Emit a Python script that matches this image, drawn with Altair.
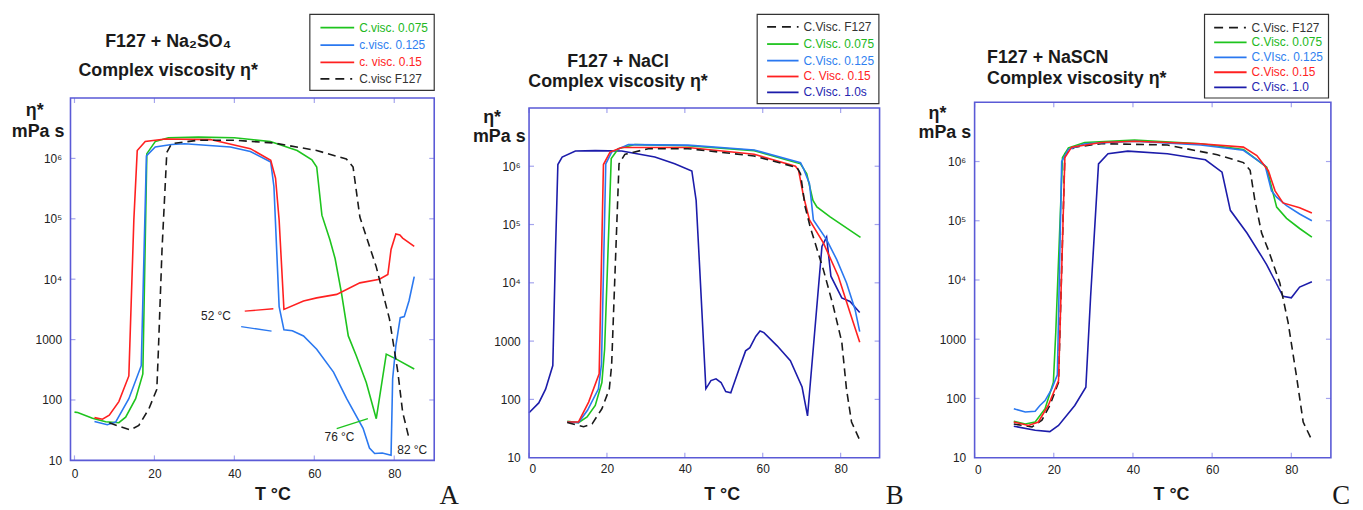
import json
import altair as alt
import pandas as pd

FONT = "Liberation Sans, Arial, Helvetica, sans-serif"
SERIF = "Liberation Serif, Times New Roman, serif"
GREEN = "#1ec41e"
BLUE = "#2a78f0"
RED = "#ff2020"
NAVY = "#1c1caa"
BLACK = "#1a1a1a"
FRAME = "#5a5ad6"
TICK = "#a4a4ee"
GT, BT, RT, NT, KT = "#22b822", "#2f7ff0", "#ff2424", "#2424b0", "#333333"

x_ticks = [0, 20, 40, 60, 80]
y_tick_values = [10, 100, 1000, 10000, 100000, 1000000]
y_tick_labels = ["10", "100", "1000", "10⁴", "10⁵", "10⁶"]
inner_y_ticks = [100, 1000, 10000, 100000, 1000000]

# ---------------- Panel A : F127 + Na2SO4 ----------------
A_T_green = [0, 0.8, 4.5, 7.8, 11.1, 12.8, 15.3, 17.1, 18.1, 20.2, 23.5, 31, 40, 49, 55.7, 59.4, 60.6, 61.9, 63.9, 65.2, 66.8, 68.5, 70.5, 73, 75.5, 78, 80.4, 85]
A_eta_green = [63, 62, 50, 43.5, 42, 52, 105, 270, 1.2e6, 1.9e6, 2.2e6, 2.25e6, 2.2e6, 1.9e6, 1.35e6, 9.5e5, 7.2e5, 1.15e5, 4.5e4, 2.2e4, 5900, 1150, 540, 195, 49, 575, 480, 325]
A_T_blue = [5, 8.2, 10.3, 13.6, 16.7, 18, 20.2, 24.3, 27.6, 39, 44, 49.1, 49.9, 51.2, 52.4, 54.5, 57.3, 60.6, 64.8, 68.1, 72.2, 73.8, 75.1, 77, 79.2, 79.6, 80.4, 81.5, 82.5, 83.7, 85]
A_eta_blue = [44, 39, 43, 105, 370, 1.1e6, 1.55e6, 1.7e6, 1.75e6, 1.55e6, 1.3e6, 8.7e5, 3.4e5, 3500, 1450, 1400, 1150, 690, 290, 105, 34, 16, 13, 13.2, 12.2, 225, 790, 2300, 2400, 4400, 1.1e4]
A_T_red = [5, 7, 8.7, 11.1, 13.6, 14.85, 15.7, 17.7, 22.7, 34, 44, 49.1, 50.3, 51.2, 52.4, 57.3, 60.6, 65.6, 71.4, 76.3, 78.4, 79.2, 80.4, 81.4, 82.1, 85]
A_eta_red = [51, 48, 56, 94, 250, 9.5e4, 1.35e6, 1.9e6, 2.1e6, 2.05e6, 1.45e6, 9.3e5, 4.7e5, 9.5e4, 3160, 4360, 4900, 5600, 8700, 1.0e4, 1.2e4, 3.1e4, 5.6e4, 5.4e4, 4.8e4, 3.5e4]
A_T_f127 = [8.7, 11, 14, 16.1, 18.6, 20.6, 21, 21.9, 23.1, 24.3, 30.9, 40, 49.9, 60.6, 68, 69.7, 71.4, 73, 75.5, 78.8, 80.9, 82.1, 83.6]
A_eta_f127 = [42, 37, 32, 38, 71, 150, 690, 3.1e4, 1.26e6, 1.75e6, 2.0e6, 2.0e6, 1.8e6, 1.35e6, 9.8e5, 7.2e5, 1.07e5, 5.1e4, 1.6e4, 2200, 290, 63, 24.6]
A_legend = ["C.visc. 0.075", "c.visc. 0.125", "c. visc. 0.15", "C.visc F127"]
A_ann_labels = ["52 °C", "76 °C", "82 °C"]
A_ann_T = [35.4, 66.3, 84.5]
A_ann_eta = [2430, 24.8, 14.6]
A_lead_T = [42.6, 41.7, 65.6]
A_lead_T2 = [49.75, 49.3, 73.4]
A_lead_eta = [2950, 1640, 33.6]
A_lead_eta2 = [3240, 1380, 49]

# ---------------- Panel B : F127 + NaCl ----------------
B_T_f127 = [9.8, 14, 16.2, 18.7, 20.6, 21.2, 23.1, 24.6, 30.6, 40.8, 57.8, 68.8, 69.7, 70.9, 72.2, 75.6, 78.1, 80.3, 81.5, 82.8, 84.9]
B_eta_f127 = [40, 34, 38, 69, 150, 380, 1.1e6, 1.6e6, 2.0e6, 2.0e6, 1.5e6, 9.5e5, 7.4e5, 2.0e5, 9.0e4, 1.65e4, 4000, 960, 150, 41, 20]
B_T_green = [9.8, 12.7, 14.9, 17, 18.7, 19.4, 21.1, 22.9, 27.2, 40.8, 57.8, 69.7, 71.3, 72.9, 73.9, 77.3, 85.1]
B_eta_green = [42, 40, 50, 79, 195, 725, 1.35e6, 2.0e6, 2.35e6, 2.25e6, 1.85e6, 1.1e6, 7.4e5, 2.6e5, 2.0e5, 1.35e5, 6.0e4]
B_T_blue = [9.8, 12.7, 15, 17.8, 18.6, 19.7, 21.2, 25.5, 40.8, 57.8, 69.7, 70.5, 72, 73, 76.4, 79, 81.5, 83.7, 84.9]
B_eta_blue = [41, 40, 65, 150, 400, 1.1e6, 1.75e6, 2.35e6, 2.3e6, 1.9e6, 1.15e6, 9.0e5, 5.0e5, 1.2e5, 5.5e4, 2.5e4, 1.0e4, 3500, 1450]
B_T_red = [9.8, 12.7, 15.3, 18, 19.1, 20.8, 23.8, 40.8, 57.8, 68.4, 69.2, 70.5, 72, 75.6, 79.4, 82.4, 84.9]
B_eta_red = [41, 41, 90, 275, 1.07e6, 1.75e6, 2.1e6, 2.1e6, 1.6e6, 1.0e6, 8.5e5, 3.0e5, 1.2e5, 4.8e4, 1.3e4, 3100, 960]
B_T_navy = [0, 2.5, 4.25, 6.1, 6.8, 7.4, 8.5, 11.9, 17, 23.8, 32.3, 37.4, 41.8, 42.9, 43.7, 45.4, 46.7, 48, 49.3, 50.5, 51.8, 53.9, 55.6, 56.7, 58.2, 59.3, 60.3, 63.7, 67.1, 70.1, 71.5, 75.2, 76.4, 77.5, 80.3, 82.4, 84.9]
B_eta_navy = [59, 87, 150, 380, 3.7e4, 1.07e6, 1.44e6, 1.83e6, 1.85e6, 1.83e6, 1.44e6, 1.1e6, 8.3e5, 2.6e5, 2.5e4, 152, 210, 225, 195, 136, 130, 330, 680, 770, 1200, 1490, 1400, 830, 460, 163, 52, 4.2e4, 6.1e4, 1.3e4, 5500, 4800, 3100]
B_legend = ["C.Visc. F127", "C.Visc. 0.075", "C.Visc. 0.125", "C. Visc. 0.15", "C.Visc. 1.0s"]

# ---------------- Panel C : F127 + NaSCN ----------------
C_T_f127 = [9.9, 14.5, 17, 19, 21.2, 22.8, 25.3, 32, 48.7, 61.3, 67.9, 69.6, 70.8, 72.5, 74.2, 77.1, 79.2, 81.3, 83, 85.2]
C_eta_f127 = [37, 33, 43, 76, 187, 1.35e6, 1.75e6, 2.0e6, 1.9e6, 1.3e6, 9.6e5, 7.1e5, 2.2e5, 6.2e4, 3.2e4, 8900, 1900, 240, 40, 19.6]
C_T_green = [9.9, 12.8, 15.3, 17.8, 19.9, 20.5, 22.2, 23.7, 27.8, 40.4, 57.1, 67.9, 73.8, 75, 76.3, 78.8, 82.1, 85.2]
C_eta_green = [41, 37, 40, 67, 187, 1300, 1.17e6, 1.7e6, 2.1e6, 2.3e6, 2.0e6, 1.6e6, 8.0e5, 3.7e5, 1.7e5, 1.1e5, 7.4e4, 5.3e4]
C_T_blue = [9.9, 12.8, 15.3, 16.5, 17.8, 19.5, 20.9, 22, 23.7, 27.8, 40.4, 57.1, 67.9, 73.4, 75, 76.3, 78.8, 82.1, 85.2]
C_eta_blue = [67, 59, 61, 76, 92, 145, 250, 1.0e6, 1.6e6, 2.0e6, 2.2e6, 1.9e6, 1.55e6, 8.5e5, 3.2e5, 2.5e5, 1.8e5, 1.3e5, 1.0e5]
C_T_red = [9.9, 13.6, 16.1, 18.6, 21.2, 22.8, 24.5, 32, 40.4, 57.1, 67.9, 71.3, 74.2, 75.9, 77.9, 82.1, 85.2]
C_eta_red = [40, 35, 40, 76, 200, 1.17e6, 1.75e6, 2.1e6, 2.2e6, 2.0e6, 1.75e6, 1.26e6, 7.0e5, 3.2e5, 2.0e5, 1.66e5, 1.35e5]
C_T_navy = [9.9, 15.3, 19, 21.2, 25.3, 28.1, 29.3, 31.3, 33.7, 38.7, 48.7, 58.3, 62.5, 64.6, 68.8, 72.5, 73.8, 77.9, 80, 82.1, 85.2]
C_eta_navy = [34, 29, 27.5, 35, 76, 155, 5200, 9.1e5, 1.35e6, 1.5e6, 1.35e6, 1.07e6, 6.6e5, 1.5e5, 6.2e4, 2.5e4, 1.8e4, 5300, 5000, 7600, 9300]
C_legend = ["C.Visc. F127", "C.Visc. 0.075", "C.VIsc. 0.125", "C.Visc. 0.15", "C.Visc. 1.0"]

VW, VH = 1358, 504
ONE = pd.DataFrame({"k": [0]})
DASH = [8, 5]
LEG_DASH = [9, 6, 9, 6, 2, 6]

label_expr = "%s[indexof(%s, datum.value)]" % (
    json.dumps(y_tick_labels, ensure_ascii=False), json.dumps(y_tick_values))


def txt(x, y, s, size, weight="normal", color=BLACK, align="center", font=FONT, baseline="middle"):
    return alt.Chart(ONE).mark_text(
        font=font, fontSize=size, fontWeight=weight, color=color,
        align=align, baseline=baseline
    ).encode(x=alt.value(x), y=alt.value(y), text=alt.value(s))


def panel(p):
    x0, x1 = p["xr"]
    y0, y1 = p["yr"]  # y0 bottom, y1 top (pixels)
    xs = alt.Scale(domain=p["xdom"], range=[x0, x1], nice=False, zero=False)
    ys = alt.Scale(type="log", domain=[10, 1e7], range=[y0, y1], nice=False)
    xaxis = alt.Axis(orient="bottom", offset=-(VH - y0), values=x_ticks, format="d", title=None,
                     labelPadding=p["xpad"], domain=False, ticks=False, grid=False)
    yaxis = alt.Axis(orient="left", offset=-x0, values=y_tick_values, labelExpr=label_expr,
                     title=None, labelPadding=9, domain=False, ticks=False, grid=False)
    layers = []
    first = True
    for s in p["series"]:
        df = pd.DataFrame({"T": s["T"], "eta": s["eta"], "i": list(range(len(s["T"])))})
        mk = dict(color=s["color"], strokeWidth=1.6)
        if s["dash"]:
            mk["strokeDash"] = DASH
        if first:
            enc = dict(x=alt.X("T:Q", scale=xs, axis=xaxis), y=alt.Y("eta:Q", scale=ys, axis=yaxis))
            first = False
        else:
            enc = dict(x=alt.X("T:Q", scale=xs, title=None), y=alt.Y("eta:Q", scale=ys, title=None))
        layers.append(alt.Chart(df).mark_line(**mk).encode(order="i:Q", **enc))
    # inner ticks
    ytk = pd.DataFrame({"eta": inner_y_ticks})
    xtk = pd.DataFrame({"T": x_ticks})
    for xa, xb in [(x0, x0 + 5), (x1 - 5, x1)]:
        layers.append(alt.Chart(ytk).mark_rule(color=TICK, strokeWidth=1.2).encode(
            y=alt.Y("eta:Q", scale=ys, title=None), x=alt.value(xa), x2=alt.value(xb)))
    for ya, yb in [(y1, y1 + 5), (y0 - 5, y0)]:
        layers.append(alt.Chart(xtk).mark_rule(color=TICK, strokeWidth=1.2).encode(
            x=alt.X("T:Q", scale=xs, title=None), y=alt.value(ya), y2=alt.value(yb)))
    if "ann" in p:
        a = p["ann"]
        adf = pd.DataFrame({"T": a["T"], "eta": a["eta"], "label": a["labels"]})
        layers.append(alt.Chart(adf).mark_text(font=FONT, fontSize=12, color="#222").encode(
            x=alt.X("T:Q", scale=xs, title=None), y=alt.Y("eta:Q", scale=ys, title=None), text="label:N"))
        for k in range(len(a["lT"])):
            ldf = pd.DataFrame({"T": [a["lT"][k]], "T2": [a["lT2"][k]], "eta": [a["leta"][k]], "eta2": [a["leta2"][k]]})
            layers.append(alt.Chart(ldf).mark_rule(strokeWidth=1.3, color=a["lc"][k]).encode(
                x=alt.X("T:Q", scale=xs, title=None), x2="T2:Q",
                y=alt.Y("eta:Q", scale=ys, title=None), y2="eta2:Q"))
    # frame
    layers.append(alt.Chart(ONE).mark_rect(fillOpacity=0, stroke=FRAME, strokeWidth=1.6).encode(
        x=alt.value(x0), x2=alt.value(x1), y=alt.value(y1), y2=alt.value(y0)))
    # titles
    for (tx, ty, s, al) in p["titles"]:
        layers.append(txt(tx, ty, s, 18, "bold", BLACK, al))
    ex, ey, mx, my = p["ytitle"]
    layers.append(txt(ex, ey, "η*", 18, "bold"))
    layers.append(txt(mx, my, "mPa s", 18, "bold"))
    layers.append(txt(p["xtitle"][0], p["xtitle"][1], "T °C", 18, "bold"))
    layers.append(txt(p["letter"][0], p["letter"][1], p["letter"][2], 27, "normal", BLACK, "left", SERIF, "alphabetic"))
    # legend
    lg = p["legend"]
    layers.append(alt.Chart(ONE).mark_rect(fill="white", stroke="#333", strokeWidth=1.2).encode(
        x=alt.value(lg["box"][0]), x2=alt.value(lg["box"][1]),
        y=alt.value(lg["box"][2]), y2=alt.value(lg["box"][3])))
    for r, (lab, col, dash, tcol) in enumerate(lg["items"]):
        yy = lg["rows"][r]
        mk = dict(color=col, strokeWidth=1.8)
        if dash:
            mk["strokeDash"] = LEG_DASH
        layers.append(alt.Chart(ONE).mark_rule(**mk).encode(
            x=alt.value(lg["lx"][0]), x2=alt.value(lg["lx"][1]), y=alt.value(yy)))
        layers.append(txt(lg["tx"], yy, lab, 12, "normal", tcol, "left"))
    return alt.layer(*layers)


pA = dict(
    xr=(63, 429.7), yr=(454, 88.7), xdom=[-1, 90], xpad=8,
    series=[
        dict(T=A_T_green, eta=A_eta_green, color=GREEN, dash=False),
        dict(T=A_T_blue, eta=A_eta_blue, color=BLUE, dash=False),
        dict(T=A_T_red, eta=A_eta_red, color=RED, dash=False),
        dict(T=A_T_f127, eta=A_eta_f127, color=BLACK, dash=True),
    ],
    ann=dict(T=A_ann_T, eta=A_ann_eta, labels=A_ann_labels, lT=A_lead_T, lT2=A_lead_T2,
             leta=A_lead_eta, leta2=A_lead_eta2, lc=[RED, BLUE, GREEN]),
    titles=[(161.5, 32, "F127 + Na₂SO₄", "center"), (161.5, 61, "Complex viscosity η*", "center")],
    ytitle=(27, 102, 30.3, 123),
    xtitle=(267, 488.7),
    letter=(435, 498, "A"),
    legend=dict(box=(304.3, 429.7, 4.3, 81), rows=[17.7, 35.3, 52.7, 69.3],
                lx=(315, 349), tx=354,
                items=[(A_legend[0], GREEN, False, GT), (A_legend[1], BLUE, False, BT),
                       (A_legend[2], RED, False, RT), (A_legend[3], BLACK, True, KT)]),
)

pB = dict(
    xr=(525.3, 878.7), yr=(451.3, 98.7), xdom=[0, 90], xpad=6,
    series=[
        dict(T=B_T_navy, eta=B_eta_navy, color=NAVY, dash=False),
        dict(T=B_T_green, eta=B_eta_green, color=GREEN, dash=False),
        dict(T=B_T_blue, eta=B_eta_blue, color=BLUE, dash=False),
        dict(T=B_T_red, eta=B_eta_red, color=RED, dash=False),
        dict(T=B_T_f127, eta=B_eta_f127, color=BLACK, dash=True),
    ],
    titles=[(615, 52, "F127 + NaCl", "center"), (615, 73, "Complex viscosity η*", "center")],
    ytitle=(488, 108.5, 495.3, 128),
    xtitle=(720, 488.7),
    letter=(885, 498, "B"),
    legend=dict(box=(755.3, 878, 4.3, 94.3), rows=[17, 34.3, 51, 67, 83],
                lx=(765.3, 797), tx=802,
                items=[(B_legend[0], BLACK, True, KT), (B_legend[1], GREEN, False, GT),
                       (B_legend[2], BLUE, False, BT), (B_legend[3], RED, False, RT),
                       (B_legend[4], NAVY, False, NT)]),
)

pC = dict(
    xr=(974.5, 1333.7), yr=(451.3, 93), xdom=[0, 90], xpad=7,
    series=[
        dict(T=C_T_navy, eta=C_eta_navy, color=NAVY, dash=False),
        dict(T=C_T_f127, eta=C_eta_f127, color=BLACK, dash=True),
        dict(T=C_T_green, eta=C_eta_green, color=GREEN, dash=False),
        dict(T=C_T_blue, eta=C_eta_blue, color=BLUE, dash=False),
        dict(T=C_T_red, eta=C_eta_red, color=RED, dash=False),
    ],
    titles=[(987, 48, "F127 + NaSCN", "left"), (987, 69.3, "Complex viscosity η*", "left")],
    ytitle=(937, 104.5, 944.5, 124.5),
    xtitle=(1173, 489),
    letter=(1335, 498, "C"),
    legend=dict(box=(1206.3, 1331.3, 4.3, 88.7), rows=[17.7, 32.7, 47.7, 62.7, 78],
                lx=(1216, 1248.7), tx=1253.7,
                items=[(C_legend[0], BLACK, True, KT), (C_legend[1], GREEN, False, GT),
                       (C_legend[2], BLUE, False, BT), (C_legend[3], RED, False, RT),
                       (C_legend[4], NAVY, False, NT)]),
)

chart = alt.layer(panel(pA), panel(pB), panel(pC)).resolve_scale(
    x="independent", y="independent"
).resolve_axis(
    x="independent", y="independent"
).properties(
    width=VW, height=VH, padding=0, autosize=alt.AutoSizeParams(type="none")
).configure_view(stroke="transparent", strokeWidth=0).configure_axis(
    labelFont=FONT, labelFontSize=12, labelColor="#222"
)

chart.save("out.html", embed_options={"renderer": "svg", "actions": False})
